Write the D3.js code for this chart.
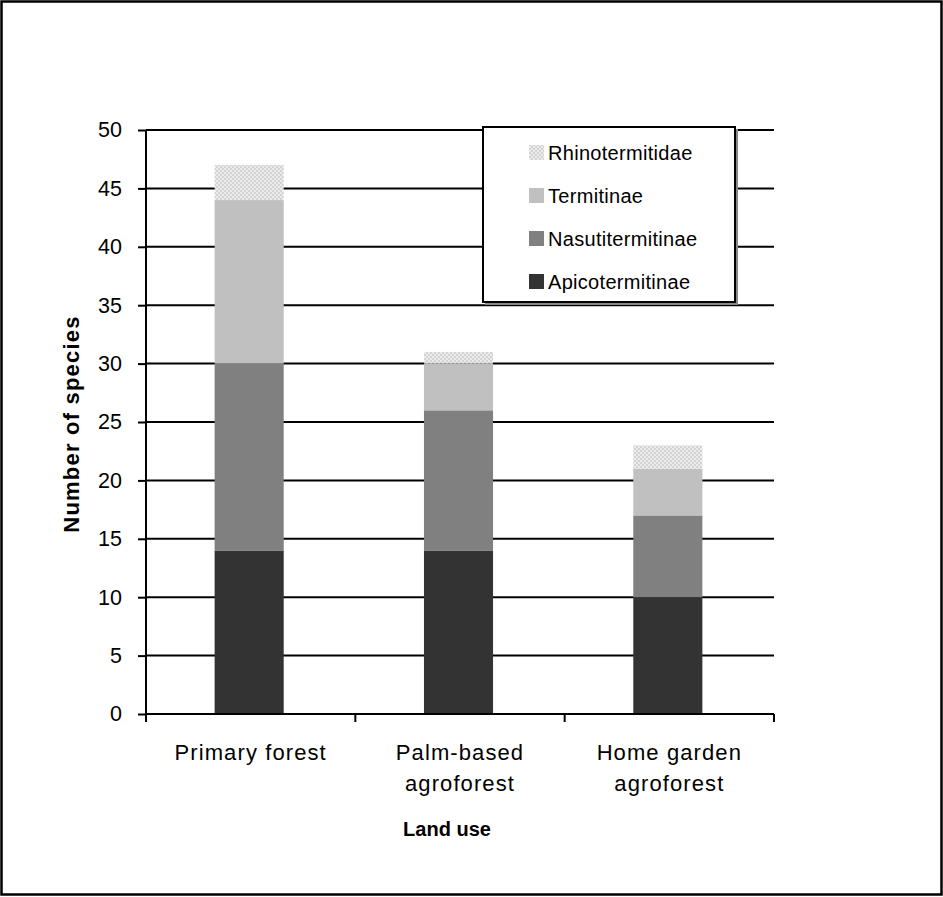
<!DOCTYPE html>
<html>
<head>
<meta charset="utf-8">
<script src="https://cdn.jsdelivr.net/npm/d3@7"></script>
<style>
  html, body { margin: 0; padding: 0; background: #fff; }
  svg { display: block; font-family: "Liberation Sans", Arial, sans-serif; }
</style>
</head>
<body>
<svg id="chart" width="943" height="897"></svg>
<script>
// Termite species richness by land use, stacked by subfamily
const landUses = [["Primary forest"], ["Palm-based", "agroforest"], ["Home garden", "agroforest"]];
const groups = ["Apicotermitinae", "Nasutitermitinae", "Termitinae", "Rhinotermitidae"];
const apicotermitinae = [14, 14, 10];
const nasutitermitinae = [16, 12, 7];
const termitinae = [14, 4, 4];
const rhinotermitidae = [3, 1, 2];
const yTicks = [0, 5, 10, 15, 20, 25, 30, 35, 40, 45, 50];

const rows = landUses.map((l, i) => ({
  key: l.join(" "),
  lines: l,
  Apicotermitinae: apicotermitinae[i],
  Nasutitermitinae: nasutitermitinae[i],
  Termitinae: termitinae[i],
  Rhinotermitidae: rhinotermitidae[i]
}));

const svg = d3.select("#chart");
const plotLeft = 146, plotRight = 774, plotTop = 130, plotBottom = 714;

// Outer frame
svg.append("rect").attr("x", 1.5).attr("y", 1.5).attr("width", 940).attr("height", 893)
  .attr("fill", "#fff").attr("stroke", "#000").attr("stroke-width", 2.5);

// Checked fill used for Rhinotermitidae
const defs = svg.append("defs");
const pat = defs.append("pattern").attr("id", "checks").attr("patternUnits", "userSpaceOnUse")
  .attr("width", 4).attr("height", 4);
pat.append("rect").attr("width", 4).attr("height", 4).attr("fill", "#d2d2d2");
pat.append("rect").attr("x", 0).attr("y", 0).attr("width", 2).attr("height", 2).attr("fill", "#ececec");
pat.append("rect").attr("x", 2).attr("y", 2).attr("width", 2).attr("height", 2).attr("fill", "#ececec");

const fills = {
  Apicotermitinae: "#333333",
  Nasutitermitinae: "#808080",
  Termitinae: "#c0c0c0",
  Rhinotermitidae: "url(#checks)"
};

const x = d3.scaleBand().domain(rows.map(d => d.key)).range([plotLeft, plotRight])
  .paddingInner(0.67).paddingOuter(0.335);
const y = d3.scaleLinear().domain([0, 50]).range([plotBottom, plotTop]);
const barShift = -1.5;

// Horizontal gridlines
svg.append("g").selectAll("line").data(yTicks.filter(t => t > 0)).join("line")
  .attr("x1", plotLeft).attr("x2", plotRight)
  .attr("y1", d => y(d)).attr("y2", d => y(d))
  .attr("stroke", "#000").attr("stroke-width", 2);

// Stacked bars
const stack = d3.stack().keys(groups)(rows);
svg.append("g").selectAll("g").data(stack).join("g")
  .attr("fill", d => fills[d.key])
  .selectAll("rect").data(d => d).join("rect")
  .attr("x", d => x(d.data.key) + barShift)
  .attr("width", x.bandwidth())
  .attr("y", d => y(d[1]))
  .attr("height", d => y(d[0]) - y(d[1]));

// Y axis
const yAxis = svg.append("g").attr("transform", `translate(${plotLeft},0)`)
  .call(d3.axisLeft(y).tickValues(yTicks).tickSize(8).tickPadding(16));
yAxis.select(".domain").attr("stroke-width", 2).attr("d", `M0,${plotTop}V${plotBottom}`);
yAxis.selectAll(".tick line").attr("stroke-width", 2);
yAxis.selectAll(".tick text").attr("font-size", 21.5).attr("fill", "#000")
  .attr("font-family", "Liberation Sans, Arial, sans-serif");

// X axis: ticks sit on the category boundaries
const bounds = rows.map(d => x(d.key) - x.step() * x.paddingOuter()).concat([plotRight]);
svg.append("line").attr("x1", plotLeft).attr("x2", plotRight).attr("y1", plotBottom).attr("y2", plotBottom)
  .attr("stroke", "#000").attr("stroke-width", 2);
svg.append("g").selectAll("line").data(bounds).join("line")
  .attr("x1", d => d).attr("x2", d => d).attr("y1", plotBottom).attr("y2", plotBottom + 8)
  .attr("stroke", "#000").attr("stroke-width", 2);

// Category labels
const cat = svg.append("g").selectAll("text").data(rows).join("text")
  .attr("x", d => x(d.key) + x.bandwidth() / 2)
  .attr("y", 760)
  .attr("text-anchor", "middle").attr("font-size", 22).attr("letter-spacing", 1.1).attr("fill", "#000");
cat.selectAll("tspan").data(d => d.lines.map(t => ({ t, cx: x(d.key) + x.bandwidth() / 2 }))).join("tspan")
  .attr("x", d => d.cx).attr("dy", (d, i) => i === 0 ? 0 : 31).text(d => d.t);

// Axis titles
svg.append("text").attr("x", 447).attr("y", 836).attr("text-anchor", "middle")
  .attr("font-size", 20).attr("font-weight", "bold").text("Land use");
svg.append("text").attr("transform", `translate(79,${(plotTop + plotBottom) / 2 + 2}) rotate(-90)`)
  .attr("text-anchor", "middle").attr("font-size", 22).attr("letter-spacing", 1.2).attr("font-weight", "bold")
  .text("Number of species");

// Legend
const lg = svg.append("g").attr("transform", "translate(483,127)");
lg.append("rect").attr("x", 2).attr("y", 2).attr("width", 253).attr("height", 176).attr("fill", "#888");
lg.append("rect").attr("width", 252).attr("height", 175).attr("fill", "#fff")
  .attr("stroke", "#000").attr("stroke-width", 2);
const legendOrder = groups.slice().reverse();
const item = lg.selectAll("g.item").data(legendOrder).join("g").attr("class", "item")
  .attr("transform", (d, i) => `translate(0,${25 + i * 43})`);
item.append("rect").attr("x", 46).attr("y", -7).attr("width", 15).attr("height", 15)
  .attr("fill", d => fills[d]);
item.append("text").attr("x", 65).attr("y", 8).attr("font-size", 20).attr("letter-spacing", 0.3).text(d => d);
</script>
</body>
</html>
